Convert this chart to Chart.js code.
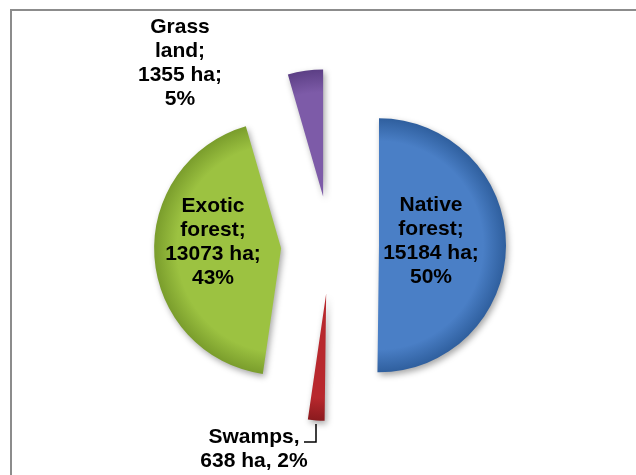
<!DOCTYPE html>
<html>
<head>
<meta charset="utf-8">
<script src="https://cdn.jsdelivr.net/npm/chart.js@4.4.1/dist/chart.umd.min.js"></script>
<style>
  html, body { margin: 0; padding: 0; background: #fff; }
  #wrap { width: 636px; height: 475px; position: relative; }
</style>
</head>
<body>
<div id="wrap"><canvas id="landChart"></canvas></div>
<script>
// Données (ha), dans l'ordre du graphique Excel, en partant de midi
const categories = ['Native forest', 'Swamps', 'Exotic forest', 'Grass land'];
const areaHa = [15184, 638, 13073, 1355];
const percentLabels = ['50%', '2%', '43%', '5%'];
const labelSeparators = [';', ',', ';', ';'];

// Style
const sliceColors = ['#4a7fc6', '#b8282d', '#9cc241', '#7d5ba8'];
const sliceEdges = ['#2f5f9e', '#8a1a1e', '#7a9d2c', '#5c3f85'];
const pieRadius = 127;
const explode = 49; // écartement des parts (px)
const labelPos = [[431, 241], [254, 449], [213, 242], [180, 63]];
const lineHeight = 24;

function labelLines(i) {
  if (labelSeparators[i] === ',') {
    return [categories[i] + ',', areaHa[i] + ' ha, ' + percentLabels[i]];
  }
  const words = categories[i].split(' ');
  const lines = words.map((w, j) => j === words.length - 1 ? w + ';' : w);
  lines.push(areaHa[i] + ' ha;', percentLabels[i]);
  return lines;
}

const framePlugin = {
  id: 'frame',
  beforeDraw(chart) {
    const ctx = chart.ctx;
    ctx.save();
    ctx.strokeStyle = '#8c8c8c';
    ctx.lineWidth = 2;
    ctx.beginPath();
    ctx.moveTo(11, chart.height);
    ctx.lineTo(11, 10);
    ctx.lineTo(chart.width, 10);
    ctx.stroke();
    ctx.restore();
  }
};

const slicePlugin = {
  id: 'slices',
  afterDatasetsUpdate(chart) {
    // part éclatée : on déplace le centre de chaque arc le long de son angle médian
    chart.getDatasetMeta(0).data.forEach(arc => {
      const mid = (arc.startAngle + arc.endAngle) / 2;
      arc.x += Math.cos(mid) * explode;
      arc.y += Math.sin(mid) * explode;
    });
  },
  beforeDatasetsDraw(chart) {
    const ctx = chart.ctx;
    chart.getDatasetMeta(0).data.forEach((arc, i) => {
      const g = ctx.createRadialGradient(arc.x, arc.y, 0, arc.x, arc.y, pieRadius);
      g.addColorStop(0, sliceColors[i]);
      g.addColorStop(0.82, sliceColors[i]);
      g.addColorStop(1, sliceEdges[i]);
      arc.options.backgroundColor = g;
    });
    ctx.save();
    ctx.shadowColor = 'rgba(0,0,0,0.35)';
    ctx.shadowBlur = 6;
    ctx.shadowOffsetX = 2;
    ctx.shadowOffsetY = 3;
  },
  afterDatasetsDraw(chart) {
    const ctx = chart.ctx;
    ctx.restore();
    ctx.save();
    ctx.fillStyle = '#000';
    ctx.font = 'bold 21px "Liberation Sans", Arial, sans-serif';
    ctx.textAlign = 'center';
    ctx.textBaseline = 'middle';
    categories.forEach((c, i) => {
      const lines = labelLines(i);
      const [x, y] = labelPos[i];
      const y0 = y - (lines.length - 1) * lineHeight / 2;
      lines.forEach((t, j) => ctx.fillText(t, x, y0 + j * lineHeight));
    });
    // ligne de rappel des marais
    ctx.strokeStyle = '#000';
    ctx.lineWidth = 1.5;
    ctx.beginPath();
    ctx.moveTo(316, 424);
    ctx.lineTo(316, 442);
    ctx.lineTo(304, 442);
    ctx.stroke();
    ctx.restore();
  }
};

new Chart(document.getElementById('landChart'), {
  type: 'pie',
  data: {
    labels: categories,
    datasets: [{
      data: areaHa,
      backgroundColor: sliceColors,
      borderWidth: 0
    }]
  },
  options: {
    responsive: true,
    maintainAspectRatio: false,
    devicePixelRatio: 1,
    animation: false,
    radius: pieRadius,
    layout: { padding: { left: 24, top: 15 } },
    events: [],
    plugins: {
      legend: { display: false },
      tooltip: { enabled: false }
    }
  },
  plugins: [framePlugin, slicePlugin]
});
</script>
</body>
</html>
